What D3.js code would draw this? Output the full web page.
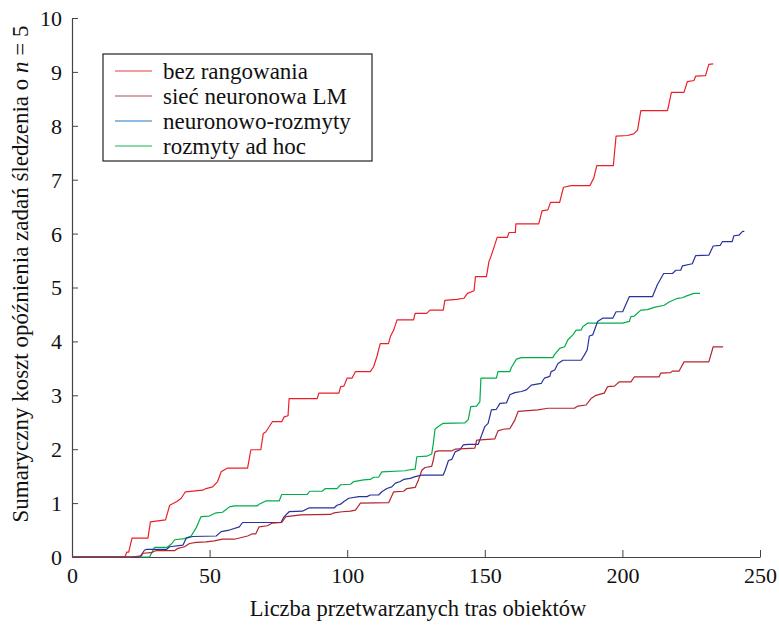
<!DOCTYPE html>
<html><head><meta charset="utf-8">
<script src="https://cdn.jsdelivr.net/npm/d3@7"></script>
<style>body{margin:0;background:#fff}svg{display:block}</style>
</head><body>
<script>
const xTicks=[0,50,100,150,200,250];
const yTicks=[0,1,2,3,4,5,6,7,8,9,10];
const seriesNames=["bez rangowania","sieć neuronowa LM","neuronowo-rozmyty","rozmyty ad hoc"];
const lineColors=["#ec1f28","#b3262d","#28339a","#00ad4a"];
const legendColors=["#f07a7e","#c88a8c","#6ea3d6","#5fcf8c"];
const redX=[0,19.2,19.9,20.6,21.8,27.6,28.5,34.0,35.5,38.1,39.7,41.2,47.5,48.7,51.1,52.9,54.2,56.5,63.8,65.0,68.6,69.5,70.4,72.8,76.2,77.1,78.5,78.9,89.1,89.7,97.0,97.6,98.8,100.0,101.8,103.0,108.4,109.6,110.8,112.0,115.0,115.7,116.9,118.1,124.1,124.7,128.9,130.1,134.9,135.5,139.8,142.4,143.7,146.1,146.6,150.6,151.5,152.4,154.5,158.2,158.8,161.1,161.3,169.6,170.8,172.9,173.9,177.2,178.6,181.4,188.2,189.6,190.7,196.7,197.7,201.9,204.1,205.5,206.7,216.4,217.8,222.4,223.6,226.0,226.6,230.2,231.4,233.0];
const redY=[0,0,0.09,0.09,0.35,0.35,0.65,0.69,0.96,1.03,1.09,1.21,1.24,1.27,1.30,1.40,1.58,1.65,1.65,1.99,1.99,2.29,2.32,2.51,2.51,2.60,2.62,2.94,2.94,3.04,3.04,3.16,3.17,3.32,3.32,3.44,3.44,3.53,3.72,3.96,3.96,4.09,4.21,4.40,4.40,4.52,4.52,4.58,4.58,4.76,4.78,4.80,4.89,4.94,5.20,5.20,5.48,5.60,5.93,5.93,6.02,6.02,6.18,6.18,6.42,6.44,6.58,6.58,6.86,6.89,6.89,7.03,7.26,7.26,7.81,7.82,7.85,7.92,8.28,8.28,8.62,8.62,8.82,8.84,8.92,8.93,9.14,9.15];
const lmX=[0,21.6,25.2,25.8,28.8,30.6,37.3,38.5,40.9,42.7,45.1,48.7,51.7,54.7,59.0,63.8,65.6,66.8,68.0,71.0,72.8,76.2,77.7,79.5,83.1,94.0,95.2,98.2,101.2,103.0,104.8,115.1,116.9,120.5,121.7,124.7,125.9,127.1,128.3,130.7,131.3,131.9,133.1,138.0,139.2,146.4,147.0,147.2,153.6,154.8,156.7,159.1,160.9,162.1,169.3,172.9,182.6,183.8,186.8,188.6,190.4,193.4,194.6,197.1,198.9,203.1,204.3,213.3,213.9,217.5,218.2,220.6,222.4,231.4,233.0,236.6];
const lmY=[0,0,0.02,0.07,0.08,0.12,0.12,0.16,0.19,0.25,0.27,0.28,0.30,0.33,0.33,0.39,0.43,0.43,0.56,0.58,0.63,0.64,0.75,0.76,0.78,0.79,0.82,0.84,0.85,0.87,1.00,1.01,1.21,1.22,1.27,1.29,1.43,1.61,1.66,1.68,1.80,1.95,1.97,1.97,2.00,2.02,2.16,2.17,2.19,2.34,2.37,2.38,2.54,2.70,2.73,2.76,2.76,2.80,2.82,2.94,3.00,3.04,3.16,3.17,3.25,3.25,3.34,3.34,3.41,3.42,3.45,3.45,3.62,3.62,3.90,3.90];
const nfX=[0,24.6,26.4,27.2,34.3,35.5,40.3,41.5,43.9,52.4,54.2,57.2,60.8,62.0,75.9,77.1,78.9,83.7,86.1,95.2,96.3,97.6,98.8,100.6,104.2,107.2,108.4,111.4,112.6,114.4,116.2,117.5,119.3,120.5,122.9,124.7,127.1,134.9,135.6,136.8,138.0,139.2,141.0,142.2,144.0,147.6,148.2,150.0,151.2,152.4,154.2,155.5,157.9,159.1,160.9,163.3,165.1,166.9,170.5,171.7,173.6,174.1,175.4,176.6,178.4,185.0,186.2,187.2,188.0,189.2,191.0,192.8,196.5,197.7,200.1,202.5,210.9,212.7,215.0,218.2,219.4,221.2,221.8,225.4,226.6,231.4,233.0,235.5,236.3,239.9,240.5,242.3,243.7,244.3];
const nfY=[0,0,0.13,0.14,0.14,0.19,0.22,0.35,0.38,0.39,0.47,0.50,0.56,0.64,0.64,0.75,0.84,0.85,0.91,0.91,0.96,0.98,1.03,1.09,1.12,1.12,1.15,1.15,1.21,1.27,1.30,1.37,1.40,1.44,1.46,1.49,1.52,1.52,1.61,1.79,1.81,1.95,1.99,2.08,2.09,2.09,2.17,2.42,2.48,2.73,2.74,2.85,2.86,3.01,3.05,3.07,3.10,3.19,3.22,3.32,3.35,3.44,3.47,3.59,3.65,3.65,3.75,3.84,4.10,4.12,4.37,4.43,4.43,4.55,4.55,4.83,4.83,5.05,5.26,5.26,5.32,5.32,5.40,5.44,5.59,5.60,5.77,5.78,5.85,5.85,5.96,5.97,6.04,6.04];
const fzX=[0,28.2,30.0,34.6,36.1,37.3,40.9,43.3,45.1,46.9,49.9,52.4,54.7,57.2,59.0,67.4,68.0,70.4,75.3,76.2,85.5,86.4,90.9,92.1,96.3,97.6,101.2,102.4,106.0,108.4,109.6,111.4,112.6,121.1,121.7,124.7,125.3,128.9,130.7,131.3,131.9,133.1,134.9,142.8,144.0,144.9,147.0,148.2,148.6,154.2,154.8,159.1,159.7,161.5,163.3,174.7,175.4,177.2,179.0,180.2,182.0,183.2,185.0,185.6,187.4,200.1,202.5,203.1,204.3,206.7,209.1,211.5,215.2,217.0,220.0,221.8,223.6,226.0,228.2];
const fzY=[0,0,0.18,0.18,0.24,0.32,0.34,0.39,0.54,0.75,0.76,0.82,0.83,0.93,0.95,0.95,0.98,1.04,1.04,1.16,1.16,1.22,1.22,1.27,1.27,1.34,1.35,1.40,1.43,1.44,1.48,1.48,1.58,1.60,1.61,1.63,1.86,1.87,1.91,2.11,2.37,2.42,2.48,2.49,2.55,2.79,2.80,2.88,3.32,3.32,3.44,3.44,3.52,3.67,3.70,3.70,3.76,3.87,3.90,4.03,4.12,4.21,4.21,4.27,4.34,4.34,4.37,4.46,4.47,4.58,4.59,4.63,4.67,4.73,4.80,4.81,4.85,4.89,4.89];

const W=779,H=625;
const svg=d3.select("body").append("svg").attr("width",W).attr("height",H);
const x=d3.scaleLinear().domain([0,250]).range([72,760]);
const y=d3.scaleLinear().domain([0,10]).range([557,18]);
const font="'Liberation Serif','Times New Roman',serif";
const axisCol="#444";

const xAxis=svg.append("g").attr("transform","translate(0,557)")
  .call(d3.axisBottom(x).tickValues(xTicks).tickSizeInner(-7).tickSizeOuter(0).tickPadding(10));
const yAxis=svg.append("g").attr("transform","translate(72,0)")
  .call(d3.axisLeft(y).tickValues(yTicks).tickSizeInner(-6).tickSizeOuter(0).tickPadding(10));
[xAxis,yAxis].forEach(g=>{
  g.attr("font-family",font);
  g.select(".domain").attr("stroke",axisCol).attr("stroke-width",1.2);
  g.selectAll(".tick line").attr("stroke",axisCol).attr("stroke-width",1);
  g.selectAll("text").attr("font-family",font).attr("font-size",22).attr("fill","#111");
});
xAxis.selectAll("text").attr("dy","0.71em");
yAxis.selectAll("text").attr("dy","0.34em");

const series=[[redX,redY],[lmX,lmY],[nfX,nfY],[fzX,fzY]];
const line=d3.line().x(d=>x(d[0])).y(d=>y(d[1]));
[0,3,2,1].forEach(i=>{
  const [xs,ys]=series[i];
  const pts=xs.map((v,k)=>[v,ys[k]]);
  svg.append("path").datum(pts).attr("d",line).attr("fill","none")
    .attr("stroke",lineColors[i]).attr("stroke-width",1.2).attr("stroke-linejoin","round");
});

const lg=svg.append("g");
lg.append("rect").attr("x",103).attr("y",54).attr("width",269).attr("height",107)
  .attr("fill","#fff").attr("stroke","#222").attr("stroke-width",1.2);
seriesNames.forEach((n,i)=>{
  const yy=71+i*25;
  lg.append("line").attr("x1",115).attr("x2",152).attr("y1",yy).attr("y2",yy)
    .attr("stroke",legendColors[i]).attr("stroke-width",1.5);
  lg.append("text").attr("x",163).attr("y",yy).attr("dy","0.34em")
    .attr("font-family",font).attr("font-size",23).attr("fill","#111").text(n);
});

svg.append("text").attr("x",418).attr("y",616).attr("text-anchor","middle")
  .attr("font-family",font).attr("font-size",22.5).attr("fill","#111")
  .text("Liczba przetwarzanych tras obiektów");
const yt=svg.append("text").attr("transform","translate(28,274) rotate(-90)")
  .attr("text-anchor","middle").attr("font-family",font).attr("font-size",23).attr("fill","#111");
yt.append("tspan").text("Sumaryczny koszt opóźnienia zadań śledzenia o ");
yt.append("tspan").attr("font-style","italic").text("n");
yt.append("tspan").text(" = 5");
</script>
</body></html>
